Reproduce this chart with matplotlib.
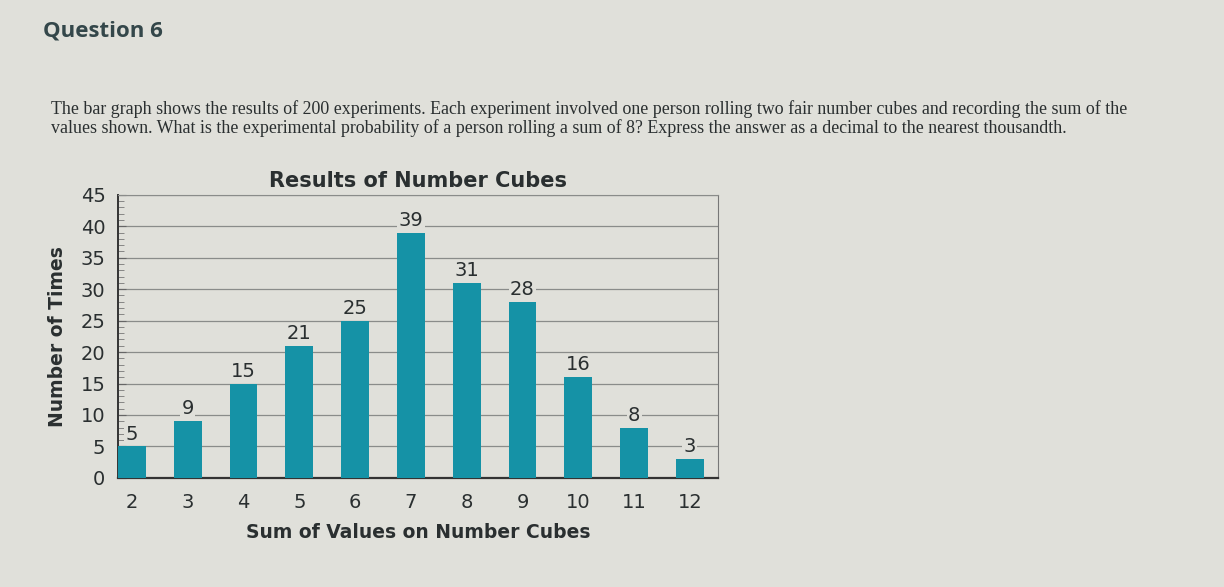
import matplotlib

matplotlib.use("Agg")

import matplotlib.pyplot as plt
from matplotlib.ticker import MultipleLocator

# data
sums = [2, 3, 4, 5, 6, 7, 8, 9, 10, 11, 12]
counts = [5, 9, 15, 21, 25, 39, 31, 28, 16, 8, 3]
y_ticks = [0, 5, 10, 15, 20, 25, 30, 35, 40, 45]

question_title = "Question 6"
question_lines = [
    "The bar graph shows the results of 200 experiments. Each experiment involved one person "
    "rolling two fair number cubes and recording the sum of the",
    "values shown. What is the experimental probability of a person rolling a sum of 8? "
    "Express the answer as a decimal to the nearest thousandth.",
]
chart_title = "Results of Number Cubes"
x_label = "Sum of Values on Number Cubes"
y_label = "Number of Times"

bg = "#e0e0da"
bar_color = "#1592a6"
ink = "#2a2f30"
sans = "DejaVu Sans"

fig = plt.figure(figsize=(12.24, 5.87), dpi=100, facecolor=bg)

fig.text(0.035, 0.948, question_title, fontsize=16, fontweight="bold",
         family="Open Sans", color="#34474a", va="center")
fig.text(0.042, 0.815, question_lines[0], fontsize=12.9, family="Liberation Serif",
         color=ink, va="center")
fig.text(0.042, 0.781, question_lines[1], fontsize=12.9, family="Liberation Serif",
         color=ink, va="center")

ax = fig.add_axes([0.0964, 0.186, 0.49, 0.482])
ax.set_facecolor(bg)

bars = ax.bar(sums, counts, width=0.5, color=bar_color, zorder=3)
ax.bar_label(bars, padding=2, fontsize=14, family=sans, color=ink,
             bbox=dict(facecolor=bg, edgecolor="none", pad=1.0), zorder=4)

ax.set_xlim(1.75, 12.5)
ax.set_ylim(0, 45)
ax.set_xticks(sums)
ax.set_yticks(y_ticks)
ax.yaxis.set_minor_locator(MultipleLocator(1))
ax.grid(axis="y", color="#8a8c8a", linewidth=0.9, zorder=0)

ax.tick_params(axis="x", length=0, pad=11, labelsize=14, labelcolor=ink)
ax.tick_params(axis="y", which="major", direction="in", length=6, width=0.8,
               pad=9, labelsize=14, labelcolor=ink, color="#666666")
ax.tick_params(axis="y", which="minor", direction="in", length=4, width=0.6,
               color="#777777")
for lab in ax.get_xticklabels() + ax.get_yticklabels():
    lab.set_family(sans)

ax.spines["left"].set_color("#333333")
ax.spines["left"].set_linewidth(1.4)
ax.spines["bottom"].set_color("#333333")
ax.spines["bottom"].set_linewidth(1.6)
ax.spines["right"].set_color("#777777")
ax.spines["top"].set_color("#8a8c8a")

ax.set_title(chart_title, fontsize=15, fontweight="bold", family=sans,
             color=ink, pad=6)
ax.set_xlabel(x_label, fontsize=13.5, fontweight="bold", family=sans,
              color=ink, labelpad=8)
ax.set_ylabel(y_label, fontsize=13.5, fontweight="bold", family=sans,
              color=ink, labelpad=10)

fig.savefig("out.png", dpi=100, facecolor=bg)
